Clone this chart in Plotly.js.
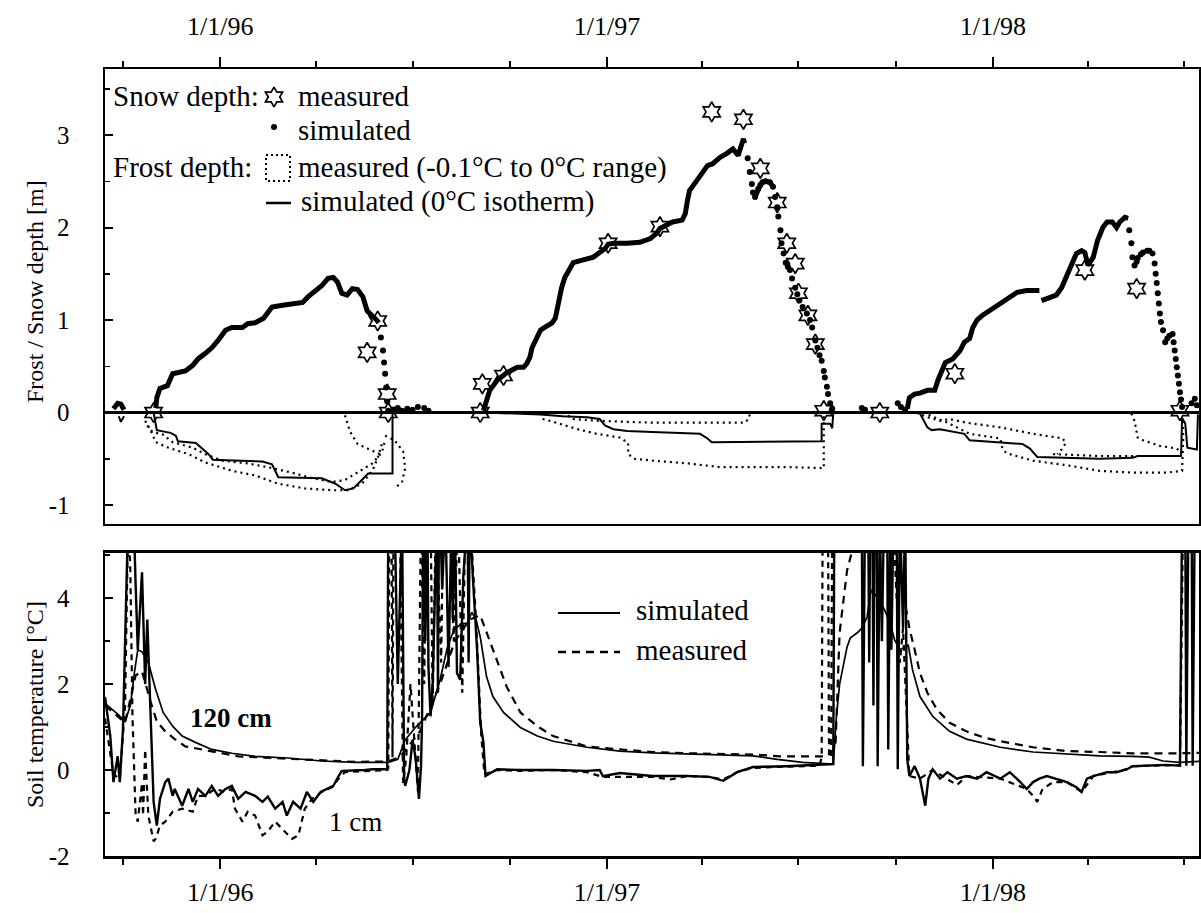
<!DOCTYPE html>
<html><head><meta charset="utf-8">
<script src="https://cdn.plot.ly/plotly-3.0.1.min.js"></script>
<style>body{margin:0;background:#fff}#chart{width:1201px;height:913px}</style>
</head><body><div id="chart"></div>
<script>
// All x values: days since 1996-01-01. Pairs are [day, value]; [null,null] breaks a line.
const snowSimLine = [
 [-101,0.04],[-97,0.1],[-94,0.09],[-91,0.03],[null,null],
 [-61,0.05],[-60,0.16],[-57,0.26],[-50,0.29],[-45,0.42],[-41,0.43],[-33,0.45],[-26,0.51],[-21,0.58],[-14,0.64],
 [-8,0.70],[-2,0.78],[5,0.89],[11,0.92],[21,0.92],[26,0.96],[33,0.97],[41,1.02],[45,1.07],[49,1.14],
 [59,1.16],[68,1.18],[78,1.19],[83,1.25],[90,1.32],[96,1.37],[102,1.45],[107,1.46],[111,1.41],[115,1.29],
 [120,1.27],[125,1.34],[130,1.33],[135,1.25],[139,1.10],[144,1.05],[148,1.0],[150,0.97],[null,null],
 [249,0.02],[252,0.15],[255,0.24],[262,0.35],[271,0.43],[281,0.49],[287,0.49],[290,0.53],[293,0.60],[295,0.70],
 [298,0.78],[303,0.89],[307,0.92],[314,0.97],[317,1.02],[319,1.14],[320,1.21],[323,1.35],[326,1.46],[331,1.57],
 [334,1.62],[340,1.64],[347,1.66],[353,1.68],[359,1.73],[364,1.77],[367,1.82],[372,1.83],[385,1.83],[397,1.84],
 [407,1.88],[413,1.94],[416,1.99],[421,2.02],[428,2.06],[437,2.08],[440,2.15],[442,2.29],[444,2.40],[451,2.51],
 [457,2.62],[461,2.67],[466,2.69],[473,2.76],[479,2.80],[485,2.85],[490,2.78],[493,2.89],[495,2.96],[496,2.91],[null,null],
 [506,2.33],[509,2.42],[511,2.46],[513,2.49],[516,2.5],[520,2.49],[523,2.44],[null,null],
 [650,0.04],[652,0.16],[657,0.2],[662,0.21],[669,0.24],[676,0.24],[679,0.35],[683,0.45],[686,0.54],[693,0.58],
 [700,0.67],[704,0.76],[709,0.8],[712,0.92],[716,1.0],[721,1.05],[728,1.1],[735,1.16],[740,1.19],[747,1.25],
 [754,1.3],[763,1.32],[775,1.32],[null,null],
 [777,1.21],[785,1.25],[791,1.27],[796,1.35],[801,1.48],[806,1.61],[810,1.72],[815,1.75],[818,1.73],[821,1.59],
 [826,1.68],[830,1.86],[835,2.0],[839,2.06],[844,2.06],[848,2.0],[851,2.06],[856,2.11],[859,2.1]
];
const snowSimDots = [
 [152,0.81],[154,0.67],[155,0.54],[156,0.42],[157,0.27],[158,0.12],[159,0.02],
 [164,0.03],[168,0.05],[172,0.02],[177,0.04],[182,0.03],[187,0.06],[193,0.05],[197,0.02],
 [499,2.75],[501,2.6],[503,2.47],[504,2.38],[506,2.33],[509,2.42],[511,2.46],[513,2.49],[516,2.5],[520,2.49],
 [523,2.44],[525,2.33],[527,2.22],[528,2.12],[530,1.97],[531,1.83],[533,1.72],[535,1.62],[537,1.58],[539,1.54],
 [541,1.45],[544,1.35],[546,1.28],[548,1.21],[551,1.14],[555,1.07],[558,1.0],[560,0.92],[563,0.78],[565,0.70],
 [567,0.62],[569,0.56],[571,0.45],[572,0.38],[574,0.28],[575,0.2],[577,0.1],[579,0.04],
 [607,0.05],[610,0.03],[641,0.1],[644,0.06],[648,0.03],
 [860,1.97],[862,1.83],[863,1.68],[865,1.59],[867,1.63],[868,1.67],[871,1.71],[873,1.73],[877,1.75],[879,1.75],
 [882,1.72],[884,1.61],[885,1.50],[886,1.40],[887,1.29],[888,1.18],[889,1.07],[890,0.98],[892,0.89],[894,0.76],
 [896,0.80],[898,0.83],[901,0.85],[902,0.76],[903,0.67],[904,0.58],[905,0.49],[906,0.40],[907,0.31],[908,0.22],
 [909,0.14],[910,0.06],[919,0.1],[922,0.15],[924,0.08]
];
const snowMeasured = [
 [-63,0.0],[139,0.65],[149,0.99],[158,0.2],[159,0.0],[246,0.0],[248,0.31],[268,0.40],[367,1.83],[416,2.01],
 [465,3.25],[495,3.17],[511,2.64],[527,2.27],[536,1.83],[544,1.61],[547,1.29],[556,1.05],[563,0.74],[571,0.02],
 [624,0.0],[695,0.42],[818,1.54],[867,1.34],[908,0.02]
];
const frostSim = [
 [-96,-0.04],[-94,-0.1],[-91,-0.04],[null,null],
 [-63,0],[-61,-0.15],[-60,-0.19],[-47,-0.22],[-42,-0.25],[-40,-0.31],[-23,-0.33],[-19,-0.37],[-11,-0.45],[-7,-0.51],
 [40,-0.53],[49,-0.56],[55,-0.7],[96,-0.71],[109,-0.77],[118,-0.84],[126,-0.82],[134,-0.73],[140,-0.66],[163,-0.66],[163,0],[null,null],
 [249,0],[303,-0.02],[324,-0.04],[347,-0.05],[359,-0.07],[364,-0.14],[372,-0.18],[385,-0.2],[409,-0.21],[454,-0.23],
 [461,-0.28],[465,-0.32],[569,-0.31],[569,-0.12],[577,-0.12],[579,-0.17],[580,0],[null,null],
 [655,0],[662,-0.01],[669,-0.16],[673,-0.19],[681,-0.18],[697,-0.22],[704,-0.23],[709,-0.3],[738,-0.32],[759,-0.34],
 [766,-0.39],[773,-0.48],[832,-0.5],[863,-0.49],[868,-0.47],[909,-0.47],[910,-0.06],[913,-0.12],[915,-0.38],[924,-0.4],[925,-0.02]
];
const frostMeasured = [
 [-71,-0.09],[-66,-0.19],[-61,-0.32],[-49,-0.38],[-30,-0.45],[-14,-0.54],[11,-0.63],[33,-0.68],[55,-0.77],[80,-0.82],
 [106,-0.84],[121,-0.84],[134,-0.77],[144,-0.63],[149,-0.49],[153,-0.34],[null,null],
 [-69,-0.14],[-64,-0.21],[-54,-0.24],[-45,-0.32],[-26,-0.38],[-14,-0.45],[2,-0.52],[26,-0.55],[49,-0.60],[68,-0.65],
 [87,-0.71],[106,-0.75],[118,-0.73],[130,-0.65],[144,-0.55],[153,-0.43],[156,-0.3],[null,null],
 [118,-0.03],[123,-0.21],[130,-0.34],[144,-0.41],[153,-0.46],[null,null],
 [156,-0.25],[165,-0.3],[173,-0.42],[175,-0.6],[172,-0.75],[167,-0.8],[null,null],
 [324,0],[334,-0.07],[359,-0.09],[409,-0.11],[466,-0.11],[496,-0.11],[500,-0.07],[501,-0.02],[null,null],
 [305,-0.07],[315,-0.1],[338,-0.18],[356,-0.23],[378,-0.27],[386,-0.33],[386,-0.45],[392,-0.5],[409,-0.52],[442,-0.55],
 [473,-0.59],[536,-0.59],[571,-0.6],[571,0],[null,null],
 [659,0],[669,-0.05],[681,-0.09],[690,-0.07],[706,-0.11],[738,-0.16],[769,-0.23],[797,-0.28],[800,-0.33],[796,-0.4],[792,-0.45],[null,null],
 [788,-0.45],[832,-0.47],[865,-0.47],[null,null],
 [862,-0.01],[865,-0.09],[868,-0.27],[873,-0.30],[889,-0.36],[905,-0.39],[910,-0.44],[null,null],
 [665,0],[690,-0.12],[709,-0.23],[738,-0.28],[740,-0.39],[744,-0.44],[769,-0.52],[801,-0.57],[832,-0.63],[863,-0.65],
 [895,-0.65],[910,-0.63],[911,-0.3],[911,-0.05]
];
const soil120Sim = [
 [-109,1.55],[-104,1.45],[-97,1.3],[-90,1.13],[-85,1.5],[-81,2.3],[-78,2.8],[-74,2.75],[-68,2.5],[-61,1.87],
 [-54,1.34],[-45,1.02],[-36,0.79],[-24,0.65],[-8,0.48],[11,0.39],[33,0.32],[64,0.28],[96,0.21],[128,0.18],
 [159,0.18],[168,0.25],[175,0.7],[185,1.0],[199,1.34],[208,2.1],[215,2.86],[221,3.26],[228,3.4],[234,3.42],
 [238,3.67],[242,3.5],[246,3.1],[252,2.17],[258,1.71],[268,1.34],[284,0.99],[300,0.79],[315,0.67],[347,0.53],
 [378,0.44],[409,0.40],[442,0.37],[473,0.35],[504,0.33],[527,0.25],[551,0.18],[580,0.14],[583,1.25],[586,2.0],
 [593,2.86],[596,3.07],[603,3.2],[607,3.3],[612,3.56],[615,4.1],[617,4.2],[619,4.1],[624,3.95],[629,3.7],
 [634,3.4],[638,3.03],[643,2.8],[648,2.86],[651,2.9],[655,2.33],[662,1.71],[674,1.25],[690,0.9],[706,0.72],
 [738,0.53],[769,0.42],[801,0.37],[832,0.33],[863,0.32],[879,0.3],[892,0.21],[908,0.18],[926,0.2]
];
const soil120Meas = [
 [-109,1.5],[-90,1.1],[-80,2.2],[-74,2.3],[-66,1.6],[-60,1.13],[-52,0.9],[-43,0.72],[-33,0.55],[-17,0.48],
 [-5,0.41],[17,0.32],[49,0.28],[96,0.22],[128,0.19],[159,0.2],[170,0.3],[189,0.9],[208,2.0],[222,3.0],
 [236,3.5],[246,3.6],[255,3.0],[265,2.3],[271,1.94],[284,1.34],[300,1.02],[315,0.79],[331,0.67],[347,0.55],
 [378,0.48],[409,0.42],[442,0.39],[473,0.37],[504,0.36],[530,0.32],[572,0.32],[582,0.5],[586,3.2],[593,4.64],[600,5.3],
 [638,5.3],[646,4.1],[652,3.3],[657,2.8],[662,2.26],[669,1.8],[678,1.41],[690,1.1],[706,0.9],[722,0.76],
 [738,0.67],[769,0.53],[801,0.44],[832,0.42],[863,0.39],[908,0.39],[926,0.4]
];
const soil1Sim = [
 [-109,1.7],[-104,0.79],[-101,-0.28],[-97,0.32],[-95,-0.28],[-92,0.95],[-87,6],[-82,6],[-80,4.3],[-78,2.8],
 [-74,4.6],[-71,2.0],[-69,3.5],[-66,1.25],[-63,-0.74],[-60,-1.29],[-57,-0.67],[-52,-0.28],[-49,-0.2],[-45,-0.6],
 [-43,-0.44],[-36,-0.83],[-30,-0.44],[-26,-0.74],[-21,-0.44],[-14,-0.6],[-8,-0.37],[-2,-0.6],[5,-0.44],[11,-0.37],
 [17,-0.67],[24,-0.51],[33,-0.6],[40,-0.74],[45,-0.62],[52,-0.9],[59,-0.74],[63,-1.06],[69,-0.74],[76,-0.9],
 [82,-0.51],[88,-0.74],[95,-0.51],[101,-0.44],[107,-0.37],[112,-0.14],[115,-0.02],[137,0.0],[144,0.02],[158,0.02],
 [159,6],[165,6],[168,2],[172,6],[174,-0.2],[175,-0.37],[179,0.0],[182,0.7],[185,0.25],[188,-0.67],
 [190,0.1],[191,1.25],[192,6],[193,6],[194,3.0],[196,6],[197,2.4],[199,1.25],[201,2.0],[205,6],
 [206,1.8],[207,6],[208,6],[210,4.2],[213,6],[216,2.4],[219,6],[220,3.5],[221,6],[222,6],
 [224,2.26],[227,2.1],[230,4.5],[234,6],[235,2.5],[236,6],[239,4.5],[243,2.8],[246,1.1],[249,0.65],
 [251,-0.14],[262,0.02],[284,0.0],[315,0.0],[347,-0.02],[359,0.0],[362,-0.14],
 [378,-0.07],[409,-0.14],[426,-0.14],[442,-0.14],[463,-0.16],[476,-0.25],[489,-0.05],[504,0.07],[536,0.09],[567,0.12],
 [580,0.14],[581,6],[607,6],[608,0.09],[610,6],[613,6],[614,2.5],[615,6],[617,6],[618,1.5],
 [619,6],[621,6],[622,0.09],[624,6],[626,3.0],[628,6],[631,6],[632,0.48],[634,6],[635,2.8],
 [637,6],[640,6],[641,0.02],[643,6],[646,3.3],[648,6],[650,0.25],[652,-0.14],[657,0.09],[662,-0.2],
 [667,-0.83],[670,-0.2],[674,0.02],[681,-0.2],[688,-0.05],[697,-0.2],[706,-0.14],[716,-0.2],[725,-0.05],[738,-0.2],
 [747,-0.05],[757,-0.28],[763,-0.44],[769,-0.28],[775,-0.2],[782,-0.14],[791,-0.2],[801,-0.28],[810,-0.4],[815,-0.51],
 [820,-0.2],[826,-0.14],[839,-0.05],[848,-0.05],[858,0.02],[863,0.09],[895,0.12],[908,0.1],[910,6],[913,6],
 [914,0.1],[916,6],[919,6],[920,0.1],[922,6],[926,6]
];
const soil1Meas = [
 [-109,1.2],[-101,-0.1],[-95,-0.2],[-90,1.5],[-87,6],[-85,4.6],[-83,1.25],[-80,-1.06],[-78,-1.2],[-74,-0.3],
 [-73,-1.06],[-71,0.48],[-68,-1.06],[-63,-1.66],[-61,-1.6],[-57,-1.29],[-52,-1.2],[-45,-0.97],[-36,-0.9],[-26,-0.97],
 [-21,-0.6],[-14,-0.6],[-5,-0.44],[5,-0.51],[11,-0.44],[14,-0.9],[21,-1.2],[26,-0.97],[33,-1.06],[40,-1.52],
 [45,-1.43],[52,-1.2],[61,-1.43],[68,-1.6],[74,-1.52],[80,-0.9],[87,-0.67],[96,-0.51],[106,-0.4],[112,-0.2],
 [118,-0.05],[137,-0.02],[158,0.0],[159,0.05],[160,6],[162,6],[163,0.3],[164,6],[170,6],[173,-0.3],
 [176,0.3],[180,2],[187,-0.5],[190,6],[193,2.0],[195,6],[199,6],[201,1.5],[204,6],[209,2.5],
 [211,6],[217,6],[221,3],[225,6],[229,1.8],[232,6],[236,6],[242,3.5],[247,0.8],[250,-0.1],
 [262,0.0],[284,-0.02],[315,0.0],[347,-0.05],[362,-0.16],[378,-0.16],
 [409,-0.16],[426,-0.22],[442,-0.14],[463,-0.16],[476,-0.22],[489,-0.05],[504,0.05],[536,0.08],[567,0.1],[569,0.3],
 [570,6],[575,6],[576,0.3],[578,0.3],[579,6],[636,6],[640,4],[643,2.5],[646,3.3],[650,1.0],
 [652,-0.14],[662,-0.2],[674,0.0],[697,-0.35],[706,-0.14],[738,-0.2],[763,-0.44],[769,-0.6],[773,-0.74],[778,-0.44],
 [788,-0.28],[801,-0.28],[815,-0.51],[826,-0.14],[858,0.02],[863,0.09],[895,0.12],[908,0.12],[911,6],[926,6]
];
const depthTicks = [-1, 0, 1, 2, 3];
const depthTickText = ['-1', '0', '1', '2', '3'];
const tempTicks = [-2, 0, 2, 4];
const tempTickText = ['-2', '0', '2', '4'];
const tickFormat = '%-m/%-d/%y';
const xStartDay = -109, xEndDay = 926;

function toDate(d){ return d===null ? null : new Date(Date.UTC(1996,0,1)+d*864e5).toISOString().slice(0,10); }
const X = a => a.map(p => toDate(p[0]));
const Y = a => a.map(p => p[1]);

const FONT = "'Liberation Serif','Times New Roman',serif";
const K = '#000';

const traces = [
 {x:X(frostMeasured), y:Y(frostMeasured), xaxis:'x2', yaxis:'y', mode:'lines', line:{color:K, width:2.2, dash:'2px,4px'}, connectgaps:false},
 {x:X(frostSim), y:Y(frostSim), xaxis:'x2', yaxis:'y', mode:'lines', line:{color:K, width:2}, connectgaps:false},
 {x:X(snowSimLine), y:Y(snowSimLine), xaxis:'x2', yaxis:'y', mode:'lines', line:{color:K, width:5}, connectgaps:false},
 {x:X(snowSimDots), y:Y(snowSimDots), xaxis:'x2', yaxis:'y', mode:'markers', marker:{color:K, size:6}},
 {x:X(snowMeasured), y:Y(snowMeasured), xaxis:'x2', yaxis:'y', mode:'markers', marker:{symbol:'hexagram-open', size:15, color:K, line:{width:1.7, color:K}}},
 {x:X(soil120Sim), y:Y(soil120Sim), xaxis:'x', yaxis:'y2', mode:'lines', line:{color:K, width:1.7}},
 {x:X(soil120Meas), y:Y(soil120Meas), xaxis:'x', yaxis:'y2', mode:'lines', line:{color:K, width:2.2, dash:'8px,6px'}},
 {x:X(soil1Sim), y:Y(soil1Sim), xaxis:'x', yaxis:'y2', mode:'lines', line:{color:K, width:2.4}},
 {x:X(soil1Meas), y:Y(soil1Meas), xaxis:'x', yaxis:'y2', mode:'lines', line:{color:K, width:2.2, dash:'6px,5px'}},
 // legend keys drawn on an invisible overlay axis
 {x:[274], y:[97], xaxis:'x3', yaxis:'y3', mode:'markers', marker:{symbol:'hexagram-open', size:15, color:K, line:{width:1.7,color:K}}},
 {x:[274], y:[127], xaxis:'x3', yaxis:'y3', mode:'markers', marker:{size:6, color:K}},
 {x:[266,290,290,266,266], y:[155,155,181,181,155], xaxis:'x3', yaxis:'y3', mode:'lines', line:{color:K, width:2, dash:'2px,3px'}},
 {x:[266,291], y:[203,203], xaxis:'x3', yaxis:'y3', mode:'lines', line:{color:K, width:2.5}},
 {x:[558,620], y:[613,613], xaxis:'x3', yaxis:'y3', mode:'lines', line:{color:K, width:2.2}},
 {x:[558,620], y:[652,652], xaxis:'x3', yaxis:'y3', mode:'lines', line:{color:K, width:2.4, dash:'8px,6px'}}
];

const xCommon = {
 type:'date', showline:true, linewidth:2.5, linecolor:K, mirror:true,
 ticks:'outside', ticklen:10, tickwidth:2, tickcolor:K,
 dtick:'M12', tick0:'1996-01-01', tickformat:tickFormat,
 tickfont:{family:FONT, size:26, color:K}, showgrid:false, zeroline:false,
 minor:{dtick:'M3', tick0:'1995-10-01', ticks:'outside', ticklen:6, tickwidth:2, tickcolor:K, showgrid:false}
};
const yCommon = {
 showline:true, linewidth:2.5, linecolor:K, mirror:true, ticks:'inside', ticklen:8, tickwidth:2, tickcolor:K,
 tickfont:{family:FONT, size:25, color:K}, showgrid:false, ticklabelstandoff:28, tickmode:'array'
};
function ann(text, px, py, opts){
 return Object.assign({text:text, xref:'paper', yref:'paper', x:(px-105)/1094, y:(856-py)/787,
  xanchor:'left', yanchor:'middle', showarrow:false, font:{family:FONT, size:29, color:K}}, opts||{});
}
const layout = {
 width:1201, height:913, margin:{l:105, r:2, t:69, b:57}, paper_bgcolor:'#fff', plot_bgcolor:'rgba(0,0,0,0)',
 showlegend:false, font:{family:FONT, color:K},
 xaxis: Object.assign({}, xCommon, {domain:[0,1], anchor:'y2', side:'bottom', range:[toDate(xStartDay), toDate(xEndDay)], ticklabelstandoff:1}),
 xaxis2: Object.assign({}, xCommon, {domain:[0,1], anchor:'y', side:'top', matches:'x', ticklabelstandoff:11}),
 yaxis: Object.assign({}, yCommon, {domain:[0.42186,1], anchor:'x2', range:[-1.205,3.714], tickvals:depthTicks, ticktext:depthTickText,
   zeroline:true, zerolinewidth:2.5, zerolinecolor:K,
   minor:{dtick:0.5, tick0:0, ticks:'inside', ticklen:5, tickwidth:1.5, tickcolor:K, showgrid:false}}),
 yaxis2: Object.assign({}, yCommon, {domain:[0,0.38501], anchor:'x', range:[-2,5.05], tickvals:tempTicks, ticktext:tempTickText, zeroline:false,
   minor:{dtick:1, tick0:0, ticks:'inside', ticklen:5, tickwidth:1.5, tickcolor:K, showgrid:false}}),
 xaxis3: {domain:[0,1], anchor:'y3', range:[105,1199], visible:false, fixedrange:true},
 yaxis3: {domain:[0,1], anchor:'x3', range:[856,69], visible:false, fixedrange:true},
 annotations: [
  ann('Snow depth:', 111, 96), ann('measured', 296, 96), ann('simulated', 296, 130),
  ann('Frost depth:', 111, 167), ann('measured (-0.1°C to 0°C range)', 296, 167),
  ann('simulated (0°C isotherm)', 299, 201),
  ann('simulated', 634, 610), ann('measured', 634, 650),
  ann('<b>120 cm</b>', 231, 718, {xanchor:'center', font:{family:FONT, size:27, color:K}}),
  ann('1 cm', 355, 822, {xanchor:'center', font:{family:FONT, size:27, color:K}}),
  ann('Frost / Snow depth [m]', 35, 292, {xanchor:'center', textangle:-90, font:{family:FONT, size:24, color:K}}),
  ann('Soil temperature [°C]', 35, 705, {xanchor:'center', textangle:-90, font:{family:FONT, size:24, color:K}})
 ]
};
Plotly.newPlot('chart', traces, layout, {staticPlot:true, displayModeBar:false});
</script></body></html>
